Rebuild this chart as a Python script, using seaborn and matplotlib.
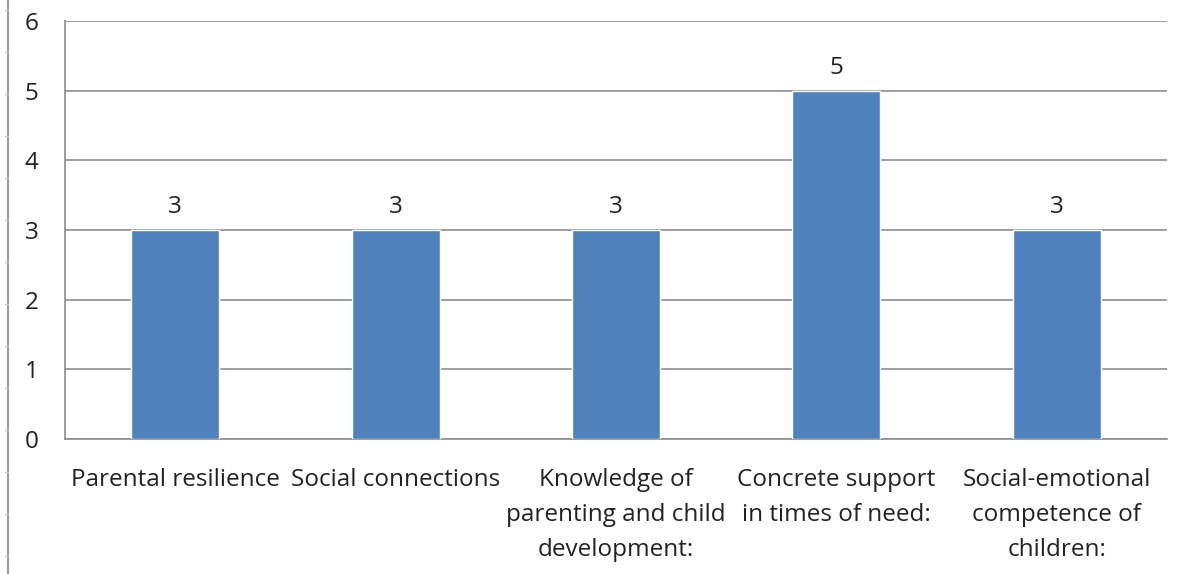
import matplotlib
matplotlib.use("Agg")
import matplotlib.pyplot as plt
import seaborn as sns
import pandas as pd
from matplotlib.lines import Line2D

categories = [
    "Parental resilience",
    "Social connections",
    "Knowledge of\nparenting and child\ndevelopment:",
    "Concrete support\nin times of need:",
    "Social-emotional\ncompetence of\nchildren:",
]
values = [3, 3, 3, 5, 3]
y_ticks = [0, 1, 2, 3, 4, 5, 6]

df = pd.DataFrame({"category": categories, "value": values})

sns.set_style("white")
plt.rcParams["font.family"] = ["Open Sans", "DejaVu Sans"]
FS = 17.5

fig = plt.figure(figsize=(11.9, 5.74), dpi=100)
ax = fig.add_axes([65 / 1190, 1 - 439 / 574, 1102 / 1190, 418 / 574])

sns.barplot(data=df, x="category", y="value", color="#4F81BD", width=0.4,
            saturation=1, ax=ax, zorder=3)

ax.set_ylim(0, 6)
ax.set_yticks(y_ticks)
ax.set_xlim(-0.5, len(categories) - 0.5)
ax.yaxis.grid(True, color="#8C8C8C", linewidth=1.2, zorder=0)
ax.set_xlabel("")
ax.set_ylabel("")

for side in ["top", "right"]:
    ax.spines[side].set_visible(False)
for side in ["left", "bottom"]:
    ax.spines[side].set_color("#8C8C8C")
    ax.spines[side].set_linewidth(1.2)

ax.tick_params(axis="y", which="major", direction="out", length=6, width=1.2,
               color="#8C8C8C", pad=13, labelsize=FS, labelcolor="#222222")
# x ticks between categories, labels at centers
ax.set_xticks([i - 0.5 for i in range(len(categories) + 1)], minor=False)
ax.set_xticklabels([])
ax.set_xticks(range(len(categories)), minor=True)
ax.set_xticklabels(categories, minor=True)
ax.tick_params(axis="x", which="major", direction="out", length=6, width=1.2,
               color="#8C8C8C")
ax.tick_params(axis="x", which="minor", length=0, pad=21, labelsize=FS,
               labelcolor="#222222")
for lbl in ax.get_xticklabels(minor=True):
    lbl.set_linespacing(1.6)

for c in ax.containers:
    ax.bar_label(c, fmt="%d", padding=8, fontsize=FS, color="#222222")

# left frame line of the sheet
fig.add_artist(Line2D([8 / 1190, 8 / 1190], [0, 1], transform=fig.transFigure,
                      color="#9A9A9A", linewidth=1.5))
for i in range(14):
    y = 1 - (10 + 42 * i) / 574
    fig.add_artist(Line2D([5 / 1190, 8 / 1190], [y, y], transform=fig.transFigure,
                          color="#C8C8C8", linewidth=1))

fig.savefig("out.png", dpi=100)
